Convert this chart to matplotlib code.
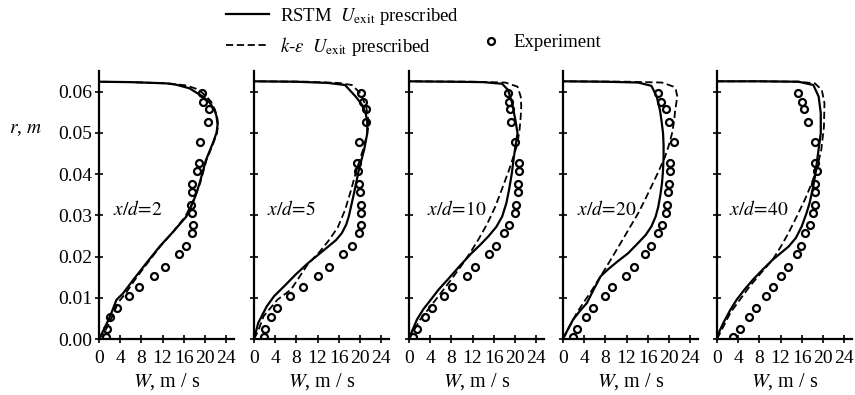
import matplotlib
matplotlib.use("Agg")
import matplotlib.pyplot as plt
from matplotlib.lines import Line2D

plt.rcParams['font.family'] = ['Liberation Serif', 'DejaVu Serif']
plt.rcParams['mathtext.fontset'] = 'stix'
plt.rcParams['font.size'] = 14

# axial stations
stations = ['2', '5', '10', '20', '40']

# measured radial positions (same for every station)
r_exp = [0.0597, 0.0575, 0.0557, 0.0527, 0.0478, 0.0427, 0.0407, 0.0375, 0.0356, 0.0325,
         0.0305, 0.0276, 0.0256, 0.0225, 0.0205, 0.0175, 0.0154, 0.0125, 0.0105, 0.0075,
         0.0054, 0.0025, 0.0006]

w_exp_2 = [19.4, 19.7, 20.7, 20.6, 19.0, 18.8, 18.5, 17.6, 17.6, 17.4, 17.5, 17.7, 17.5,
           16.5, 15.2, 12.5, 10.3, 7.5, 5.6, 3.4, 2.1, 1.6, 1.3]
w_exp_5 = [20.3, 20.5, 21.1, 21.1, 19.9, 19.4, 19.6, 19.8, 20.1, 20.3, 20.3, 20.3, 19.9,
           18.5, 16.9, 14.2, 12.1, 9.2, 6.8, 4.4, 3.3, 2.1, 1.8]
w_exp_10 = [18.7, 18.9, 19.0, 19.2, 20.1, 20.7, 20.8, 20.5, 20.5, 20.3, 20.0, 18.9, 17.9,
            16.4, 15.1, 12.5, 11.0, 8.2, 6.6, 4.4, 3.1, 1.6, 0.8]
w_exp_20 = [18.0, 18.5, 19.4, 20.1, 20.9, 20.3, 20.3, 20.1, 19.9, 19.6, 19.4, 18.7, 17.9,
            16.6, 15.4, 13.5, 11.9, 9.3, 7.9, 5.7, 4.4, 2.7, 1.9]
w_exp_40 = [15.3, 16.1, 16.5, 17.2, 18.5, 18.6, 18.8, 18.5, 18.6, 18.5, 18.2, 17.5, 16.7,
            15.9, 15.1, 13.4, 12.0, 10.6, 9.2, 7.3, 6.0, 4.3, 3.1]

# RSTM profiles (W, r)
rstm_w_2 = [0, 0.8, 2.1, 3.3, 4.5, 6.5, 9, 11.5, 14, 16.5, 17.7, 18.3, 19, 20.2, 21.5, 22.2,
            22.4, 22.2, 21.8, 20.8, 19.6, 17.1, 14.5, 12.7, 6, 0]
rstm_r_2 = [0, 0.002, 0.0055, 0.0095, 0.011, 0.0144, 0.0185, 0.0225, 0.026, 0.0297, 0.033,
            0.035, 0.0378, 0.0434, 0.0475, 0.05, 0.052, 0.054, 0.0556, 0.0575, 0.0588, 0.0608,
            0.0617, 0.062, 0.0623, 0.0624]
rstm_w_5 = [0, 0.8, 2.4, 3.8, 5.7, 8, 10.2, 12.2, 14, 15.5, 16.6, 17.4, 17.9, 18.9, 19.8, 20.8,
            21.4, 21.4, 21.1, 20.3, 19.2, 17.2, 14, 8, 0]
rstm_r_5 = [0, 0.0039, 0.0079, 0.0104, 0.0128, 0.0158, 0.0184, 0.0205, 0.0224, 0.024, 0.0257,
            0.0277, 0.0297, 0.0354, 0.041, 0.0459, 0.0499, 0.0525, 0.0548, 0.057, 0.0588,
            0.0616, 0.0621, 0.0624, 0.0625]
rstm_w_10 = [0, 0.6, 1.5, 2.7, 4.1, 5.6, 7.3, 9.5, 11.8, 13.5, 15, 16.5, 17.6, 18.4, 18.9, 19.4,
             19.8, 20.1, 20.5, 20.3, 20.1, 19.8, 19.5, 18.7, 17.6, 14, 8, 0]
rstm_r_10 = [0, 0.002, 0.0047, 0.0072, 0.0095, 0.012, 0.0144, 0.0176, 0.0208, 0.0229, 0.0249,
             0.0272, 0.0297, 0.033, 0.0362, 0.04, 0.044, 0.0467, 0.0499, 0.0515, 0.0531, 0.055,
             0.0572, 0.0604, 0.0619, 0.0623, 0.0624, 0.0625]
rstm_w_20 = [0, 0.8, 1.9, 3.2, 4.5, 5.8, 7.1, 8.6, 10.3, 12.3, 14.2, 15.6, 16.7, 17.5, 18, 18.4,
             18.7, 18.9, 19, 19, 18.9, 18.6, 18.3, 17.7, 16.7, 14.2, 8, 0]
rstm_r_20 = [0, 0.002, 0.0047, 0.0068, 0.0087, 0.012, 0.0152, 0.017, 0.0188, 0.0208, 0.0233,
             0.0252, 0.0273, 0.0297, 0.0321, 0.035, 0.0378, 0.041, 0.0443, 0.047, 0.0499, 0.053,
             0.0556, 0.0588, 0.0614, 0.0622, 0.0624, 0.0625]
rstm_w_40 = [0, 0.5, 1.2, 2.4, 3.7, 5.2, 6.8, 8.6, 10.5, 12, 13.5, 14.9, 16, 16.9, 17.5, 18.1,
             18.5, 19.1, 19.6, 19.6, 19.2, 18.2, 15.4, 8, 0]
rstm_r_40 = [0, 0.002, 0.0039, 0.0068, 0.0095, 0.012, 0.0144, 0.0168, 0.0192, 0.0208, 0.0224,
             0.0245, 0.0273, 0.0305, 0.033, 0.0365, 0.0394, 0.0451, 0.0499, 0.0548, 0.0588,
             0.0616, 0.0624, 0.0625, 0.0625]

# k-epsilon profiles (W, r)
ke_w_2 = [0, 1.2, 2.5, 3.7, 5, 6.8, 9.2, 11.6, 14, 16.3, 17.6, 18.3, 19.1, 20.3, 21.6, 22.3,
          22.5, 22.3, 21.9, 21.2, 20.3, 18.8, 16.5, 13, 6, 0]
ke_r_2 = [0, 0.002, 0.0055, 0.009, 0.011, 0.0144, 0.0185, 0.0225, 0.026, 0.0297, 0.033, 0.035,
          0.0378, 0.0434, 0.0475, 0.05, 0.052, 0.054, 0.0556, 0.0575, 0.0588, 0.0605, 0.0615,
          0.062, 0.0623, 0.0624]
ke_w_5 = [0, 0.8, 1.8, 4.4, 7, 10.2, 12.3, 14, 15.8, 17.2, 18.3, 19.2, 20.1, 20.8, 21.3, 21.6,
          21.5, 21.2, 20.1, 18.5, 16, 10, 0]
ke_r_5 = [0, 0.002, 0.0055, 0.0095, 0.012, 0.0182, 0.021, 0.0237, 0.027, 0.0313, 0.036, 0.0402,
          0.044, 0.0467, 0.0495, 0.0515, 0.054, 0.0563, 0.0596, 0.0616, 0.0621, 0.0624, 0.0625]
ke_w_10 = [0, 0.9, 2.1, 4, 6, 7.9, 9.8, 11.5, 13.1, 14.8, 16.3, 17.6, 18.9, 19.8, 20.5, 20.9,
           21.1, 21.2, 21.1, 20.5, 18.2, 12, 0]
ke_r_10 = [0, 0.002, 0.0047, 0.0078, 0.0111, 0.0143, 0.0176, 0.0208, 0.0241, 0.028, 0.0321,
           0.0365, 0.041, 0.0445, 0.0475, 0.051, 0.0539, 0.0565, 0.0588, 0.0612, 0.0622,
           0.0624, 0.0625]
ke_w_20 = [0, 1.2, 2.6, 3.8, 5.1, 7.1, 9, 10.9, 12.6, 14.2, 15.5, 16.7, 18, 19.3, 20, 20.6, 21,
           21.2, 21.6, 21.3, 20.9, 18.7, 12, 0]
ke_r_20 = [0, 0.003, 0.0063, 0.0087, 0.0111, 0.0152, 0.0192, 0.0233, 0.027, 0.0305, 0.0338,
           0.037, 0.0405, 0.0443, 0.047, 0.0499, 0.053, 0.0556, 0.0588, 0.0605, 0.0612, 0.0622,
           0.0624, 0.0625]
ke_w_40 = [0, 1.2, 2.5, 4.3, 6.2, 8.3, 10.5, 12.1, 13.5, 15.1, 16.6, 17.8, 18.8, 19.7, 20.2,
           20.3, 19.8, 18.5, 15.4, 8, 0]
ke_r_40 = [0, 0.003, 0.0063, 0.0095, 0.0128, 0.016, 0.0192, 0.0225, 0.0257, 0.0298, 0.0338,
           0.0375, 0.041, 0.0459, 0.0515, 0.0572, 0.0604, 0.062, 0.0624, 0.0625, 0.0625]

w_exp = [w_exp_2, w_exp_5, w_exp_10, w_exp_20, w_exp_40]
rstm = [(rstm_w_2, rstm_r_2), (rstm_w_5, rstm_r_5), (rstm_w_10, rstm_r_10),
        (rstm_w_20, rstm_r_20), (rstm_w_40, rstm_r_40)]
ke = [(ke_w_2, ke_r_2), (ke_w_5, ke_r_5), (ke_w_10, ke_r_10),
      (ke_w_20, ke_r_20), (ke_w_40, ke_r_40)]
label_w = [2.7, 2.4, 3.4, 2.6, 2.2]

W_fig, H_fig = 855, 395
fig = plt.figure(figsize=(W_fig / 100, H_fig / 100), dpi=100)

lefts = [99, 254, 409, 563, 717]
for i in range(5):
    ax = fig.add_axes([lefts[i] / W_fig, 56 / H_fig, 135 / W_fig, 268 / H_fig])
    ax.plot(rstm[i][0], rstm[i][1], color='black', lw=1.6)
    ax.plot(ke[i][0], ke[i][1], color='black', lw=1.3, ls=(0, (4, 2)))
    ax.plot(w_exp[i], r_exp, ls='none', marker='o', ms=5, mfc='none', mec='black', mew=1.6)
    ax.set_xlim(0, 25.5)
    ax.set_ylim(0, 0.065)
    ax.set_xticks([0, 4, 8, 12, 16, 20, 24])
    ax.set_yticks([0, 0.01, 0.02, 0.03, 0.04, 0.05, 0.06])
    if i == 0:
        ax.set_yticklabels(['0.00', '0.01', '0.02', '0.03', '0.04', '0.05', '0.06'])
    else:
        ax.set_yticklabels([])
    ax.tick_params(direction='inout', length=6, width=1.2)
    ax.tick_params(axis='x', pad=5)
    ax.tick_params(axis='y', pad=2)
    for s in ['top', 'right']:
        ax.spines[s].set_visible(False)
    for s in ['left', 'bottom']:
        ax.spines[s].set_linewidth(1.6)
    ax.patch.set_alpha(0)
    ax.set_xlabel('$W$, m / s', labelpad=3, fontsize=14.5)
    ax.text(label_w[i], 0.0315, '$x/d\\!=\\!' + stations[i] + '$', fontsize=14, va='center')

fig.text(26 / W_fig, 1 - 130 / H_fig, '$r$, $m$', ha='center', va='center', fontsize=14)

h_rstm = Line2D([], [], color='black', lw=1.6)
h_ke = Line2D([], [], color='black', lw=1.3, ls=(0, (4, 2)))
h_exp = Line2D([], [], ls='none', marker='o', ms=5, mfc='none', mec='black', mew=1.6)
fig.legend([h_rstm, h_ke],
           ['RSTM  $U_{\\rm exit}$ prescribed', '$k$-$\\varepsilon$  $U_{\\rm exit}$ prescribed'],
           loc='upper left', bbox_to_anchor=(226 / W_fig, 1 - 6 / H_fig), frameon=False,
           handlelength=2.3, handletextpad=0.6, labelspacing=0.4, borderpad=0,
           borderaxespad=0, fontsize=13.5)
fig.legend([h_exp], ['Experiment'], loc='upper left',
           bbox_to_anchor=(480 / W_fig, 1 - 34 / H_fig), frameon=False,
           handlelength=1.2, handletextpad=0.6, borderpad=0, borderaxespad=0, fontsize=13.5)

fig.savefig('out.png', dpi=100)
